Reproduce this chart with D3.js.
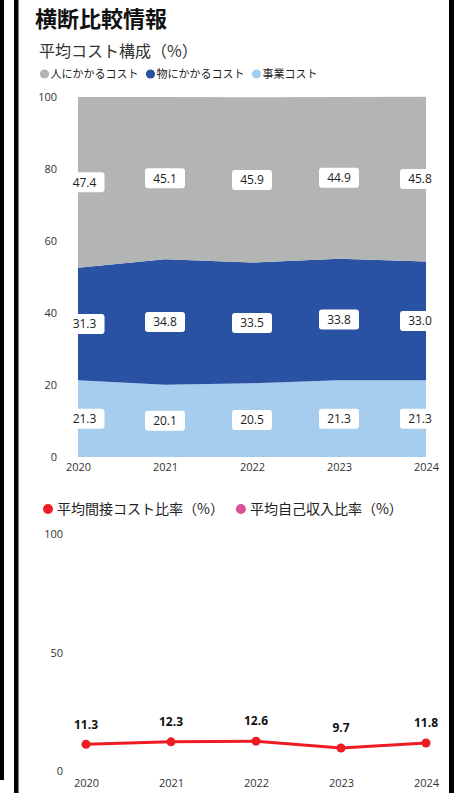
<!DOCTYPE html>
<html>
<head>
<meta charset="utf-8">
<script src="https://cdn.jsdelivr.net/npm/d3@7"></script>
<style>
  html, body { margin: 0; padding: 0; background: #fff; }
  svg { display: block; font-family: "Open Sans", "Noto Sans CJK JP", sans-serif; }
</style>
</head>
<body>
<div id="chart"></div>
<script>
// data
const years = ['2020', '2021', '2022', '2023', '2024'];
const jigyoCost = [21.3, 20.1, 20.5, 21.3, 21.3];   // 事業コスト
const monoCost = [31.3, 34.8, 33.5, 33.8, 33.0];    // 物にかかるコスト
const hitoCost = [47.4, 45.1, 45.9, 44.9, 45.8];    // 人にかかるコスト
const indirectRatio = [11.3, 12.3, 12.6, 9.7, 11.8]; // 平均間接コスト比率
const ownIncomeRatio = [];                           // 平均自己収入比率 (no values shown)
const costTicks = [0, 20, 40, 60, 80, 100];
const ratioTicks = [0, 50, 100];

const costSeries = [
  { name: '事業コスト', values: jigyoCost, color: '#a6cdee' },
  { name: '物にかかるコスト', values: monoCost, color: '#2a52a3' },
  { name: '人にかかるコスト', values: hitoCost, color: '#b3b5b4' }
];
const ratioSeries = [
  { name: '平均間接コスト比率（%）', values: indirectRatio, color: '#ed1c24' },
  { name: '平均自己収入比率（%）', values: ownIncomeRatio, color: '#d9519a' }
];

const W = 454, H = 793;
const svg = d3.select('#chart').append('svg').attr('width', W).attr('height', H);

// frame lines
svg.append('rect').attr('x', 0).attr('y', 0).attr('width', 4).attr('height', 780).attr('fill', '#000');
svg.append('rect').attr('x', 14).attr('y', 0).attr('width', 4.5).attr('height', H).attr('fill', '#000');
svg.append('rect').attr('x', 449).attr('y', 0).attr('width', 5).attr('height', H).attr('fill', '#000');

svg.append('text').attr('x', 35).attr('y', 27)
  .attr('font-family', '"Noto Sans CJK JP", sans-serif')
  .attr('font-weight', 700).attr('font-size', 22).attr('fill', '#111')
  .text('横断比較情報');

svg.append('text').attr('x', 39).attr('y', 57)
  .attr('font-family', '"Noto Sans CJK JP", sans-serif')
  .attr('font-size', 16).attr('fill', '#333')
  .text('平均コスト構成（%）');

// legend helper
function legend(items, x0, y, r, fs, textOff, gap) {
  const g = svg.append('g');
  let x = x0;
  items.forEach(d => {
    g.append('circle').attr('cx', x).attr('cy', y).attr('r', r).attr('fill', d.color);
    const t = g.append('text').attr('x', x + textOff).attr('y', y).attr('dy', '0.35em')
      .attr('font-family', '"Noto Sans CJK JP", sans-serif')
      .attr('font-size', fs).attr('fill', '#222').text(d.name);
    x = x + textOff + t.node().getComputedTextLength() + gap;
  });
}
legend(costSeries.slice().reverse(), 44.5, 74, 4.6, 11, 6, 12);

// axis text styling (drop d3's default font-family)
function styleAxis(g) {
  g.attr('font-family', null);
  g.select('.domain').remove();
  g.selectAll('text').attr('font-size', 11).attr('fill', '#333');
}

// ---- stacked area chart
const x1 = d3.scalePoint().domain(years).range([78, 426]);
const y1 = d3.scaleLinear().domain([0, 100]).range([457, 97]);

const rows = years.map((yr, i) => {
  const r = { year: yr };
  costSeries.forEach(s => { r[s.name] = s.values[i]; });
  return r;
});
const stack = d3.stack().keys(costSeries.map(s => s.name));
const layers = stack(rows);

const area = d3.area()
  .x(d => x1(d.data.year))
  .y0(d => y1(d[0]))
  .y1(d => y1(d[1]));

svg.append('g').selectAll('path').data(layers).join('path')
  .attr('d', area)
  .attr('fill', (d, i) => costSeries[i].color);

svg.append('g').attr('transform', 'translate(58,0)')
  .call(d3.axisLeft(y1).tickValues(costTicks).tickSize(0).tickPadding(1))
  .call(styleAxis);

svg.append('g').attr('transform', 'translate(0,457)')
  .call(d3.axisBottom(x1).tickSize(0).tickPadding(6))
  .call(styleAxis);

// value boxes
const xr = x1.range();
const labels = svg.append('g');
layers.forEach((layer, li) => {
  layer.forEach(d => {
    const cx = Math.min(Math.max(x1(d.data.year), xr[0] + 6.5), xr[1] - 6);
    const cy = y1((d[0] + d[1]) / 2);
    const g = labels.append('g').attr('transform', `translate(${cx},${cy})`);
    g.append('rect').attr('x', -20).attr('y', -10).attr('width', 40).attr('height', 20)
      .attr('rx', 3).attr('fill', '#fff');
    g.append('text').attr('text-anchor', 'middle').attr('dy', '0.36em')
      .attr('font-size', 12).attr('fill', '#222')
      .text(d3.format('.1f')(costSeries[li].values[years.indexOf(d.data.year)]));
  });
});

// ---- ratio line chart
legend(ratioSeries, 48, 509, 5, 14, 9, 17);

const x2 = d3.scalePoint().domain(years).range([86, 426]);
const y2 = d3.scaleLinear().domain([0, 100]).range([771, 534]);

svg.append('g').attr('transform', 'translate(64,0)')
  .call(d3.axisLeft(y2).tickValues(ratioTicks).tickSize(0).tickPadding(1))
  .call(styleAxis);

svg.append('g').attr('transform', 'translate(0,771)')
  .call(d3.axisBottom(x2).tickSize(0).tickPadding(8))
  .call(styleAxis);

ratioSeries.forEach(s => {
  if (!s.values.length) return;
  const pts = s.values.map((v, i) => ({ year: years[i], v }));
  svg.append('path').datum(pts)
    .attr('fill', 'none').attr('stroke', s.color).attr('stroke-width', 3)
    .attr('d', d3.line().x(d => x2(d.year)).y(d => y2(d.v)));
  svg.append('g').selectAll('circle').data(pts).join('circle')
    .attr('cx', d => x2(d.year)).attr('cy', d => y2(d.v)).attr('r', 4.5)
    .attr('fill', s.color);
  svg.append('g').selectAll('text').data(pts).join('text')
    .attr('x', d => x2(d.year)).attr('y', d => y2(d.v) - 20).attr('dy', '0.36em')
    .attr('text-anchor', 'middle').attr('font-size', 12).attr('font-weight', 700)
    .attr('fill', '#111')
    .text(d => d3.format('.1f')(d.v));
});
</script>
</body>
</html>
